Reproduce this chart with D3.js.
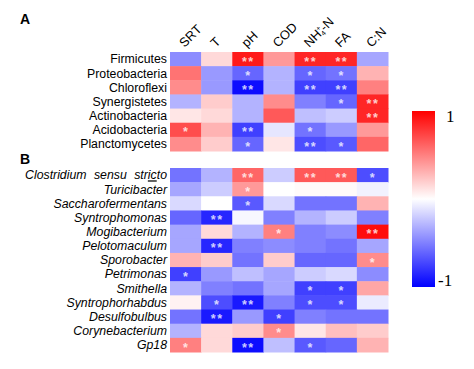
<!DOCTYPE html>
<html><head><meta charset="utf-8">
<script src="https://cdn.jsdelivr.net/npm/d3@7"></script>
<style>body{margin:0;background:#fff}</style>
</head><body><svg id="c" width="474" height="369"></svg>
<script>
const columns = ["SRT","T","pH","COD","NH4+-N","FA","C:N"];
const phyla = ["Firmicutes","Proteobacteria","Chloroflexi","Synergistetes","Actinobacteria","Acidobacteria","Planctomycetes"];
const phylaValues = [
  [-0.45, 0.15, 0.9, 0.4, 0.85, 0.85, -0.35],
  [0.55, -0.4, -0.6, -0.3, -0.6, -0.55, 0.3],
  [0.45, -0.4, -0.95, -0.3, -0.75, -0.75, 0.5],
  [-0.3, 0.2, -0.3, 0.45, -0.5, -0.6, 0.85],
  [0.1, 0.15, -0.3, 0.65, -0.25, -0.2, 0.85],
  [0.7, 0.3, -0.75, -0.1, -0.55, -0.4, 0.4],
  [0.45, 0.2, -0.6, 0.1, -0.7, -0.65, 0.6]
];
const phylaSig = [
  ["","","**","","**","**",""],
  ["","","*","","*","*",""],
  ["","","**","","**","**",""],
  ["","","","","","*","**"],
  ["","","","","","","**"],
  ["*","","**","","*","",""],
  ["","","*","","**","*",""]
];
const genera = ["Clostridium sensu stricto","Turicibacter","Saccharofermentans","Syntrophomonas","Mogibacterium","Pelotomaculum","Sporobacter","Petrimonas","Smithella","Syntrophorhabdus","Desulfobulbus","Corynebacterium","Gp18"];
const generaValues = [
  [-0.55, -0.3, 0.6, -0.2, 0.65, 0.65, -0.7],
  [-0.35, -0.2, 0.4, 0.0, 0.02, 0.02, -0.05],
  [-0.15, 0.0, -0.65, -0.15, -0.55, -0.55, 0.3],
  [-0.6, -0.85, -0.03, -0.5, -0.3, -0.2, -0.5],
  [-0.35, 0.15, -0.3, 0.5, -0.5, -0.45, 0.95],
  [-0.35, -0.85, -0.5, -0.45, -0.5, -0.55, -0.35],
  [0.3, 0.2, -0.55, 0.2, -0.6, -0.6, 0.45],
  [-0.75, -0.4, -0.25, -0.35, -0.2, -0.15, -0.45],
  [-0.3, -0.5, -0.55, -0.35, -0.75, -0.75, 0.35],
  [0.05, -0.7, -0.9, -0.5, -0.7, -0.7, -0.08],
  [-0.55, -0.9, -0.4, -0.75, -0.5, -0.55, -0.55],
  [-0.3, 0.15, 0.2, 0.45, 0.1, 0.25, 0.2],
  [0.5, 0.15, -0.95, -0.25, -0.65, -0.6, 0.3]
];
const generaSig = [
  ["","","**","","**","**","*"],
  ["","","*","","","",""],
  ["","","*","","","",""],
  ["","**","","","","",""],
  ["","","","*","","","**"],
  ["","**","","","","",""],
  ["","","","","","","*"],
  ["*","","","","","",""],
  ["","","","","*","*",""],
  ["","*","**","","*","*",""],
  ["","**","","*","","",""],
  ["","","","*","","",""],
  ["*","","**","","*","",""]
];
const legendTicks = [1, -1];

const svg = d3.select("#c");
const color = d3.scaleLinear().domain([-1,0,1]).range(["#0000ff","#ffffff","#ff0000"]);
const x = d3.scaleBand().domain(columns).range([170, 388]).padding(0);
const FONT = "Arial, Liberation Sans, sans-serif";

function block(rows, vals, sig, y0, y1, italic) {
  const y = d3.scaleBand().domain(rows).range([y0, y1]).padding(0);
  const g = svg.append("g");
  rows.forEach((r, i) => {
    columns.forEach((c, j) => {
      g.append("rect").attr("x", x(c)).attr("y", y(r))
        .attr("width", x.bandwidth()+0.5).attr("height", y.bandwidth()+0.5)
        .attr("fill", color(vals[i][j]));
    });
  });
  rows.forEach((r, i) => {
    columns.forEach((c, j) => {
      if (sig[i][j]) {
        g.append("text").attr("x", x(c)+x.bandwidth()/2+0.5).attr("y", y(r)+y.bandwidth()/2+6.6)
          .attr("text-anchor","middle").attr("font-family", FONT)
          .attr("font-size", 12.5).attr("font-weight","bold").attr("fill","#ffffff").attr("fill-opacity", 0.78)
          .attr("letter-spacing", 1.5)
          .text(sig[i][j]);
      }
    });
    const t = g.append("text").attr("x", 167).attr("y", y(r)+y.bandwidth()/2+4.3)
      .attr("text-anchor","end").attr("font-family", FONT)
      .attr("font-size", 12.3).attr("font-style", italic ? "italic" : "normal")
      .attr("fill","#000");
    if (r === "Clostridium sensu stricto") {
      t.attr("word-spacing", 4);
      t.append("tspan").text("Clostridium sensu str");
      t.append("tspan").attr("text-decoration","underline").text("ic");
      t.append("tspan").text("to");
    } else t.text(r);
  });
}
block(phyla, phylaValues, phylaSig, 52, 151, false);
block(genera, generaValues, generaSig, 168, 352, true);

// column labels
columns.forEach(c => {
  const cx = x(c) + x.bandwidth()/2 - 1;
  const t = svg.append("text").attr("transform", `translate(${cx},48) rotate(-45)`)
    .attr("font-family", FONT).attr("font-size", 12.8).attr("fill","#000");
  if (c === "NH4+-N") {
    t.append("tspan").text("NH");
    t.append("tspan").attr("font-size", 7).attr("dy", 2).text("4");
    t.append("tspan").attr("font-size", 7).attr("dy", -7).attr("dx", -4).text("+");
    t.append("tspan").attr("dy", 5).text("-N");
  } else t.text(c);
});

svg.append("text").attr("x", 20).attr("y", 24).attr("font-family", FONT)
  .attr("font-weight","bold").attr("font-size", 14).text("A");
svg.append("text").attr("x", 20).attr("y", 164).attr("font-family", FONT)
  .attr("font-weight","bold").attr("font-size", 14).text("B");

// legend
const defs = svg.append("defs");
const grad = defs.append("linearGradient").attr("id","lg").attr("x1",0).attr("y1",1).attr("x2",0).attr("y2",0);
[-1,-0.5,0,0.5,1].forEach(v => grad.append("stop").attr("offset", (v+1)/2).attr("stop-color", color(v)));
const ly = d3.scaleLinear().domain([-1,1]).range([287,111]);
svg.append("rect").attr("x", 412).attr("y", ly(1)).attr("width", 23).attr("height", ly(-1)-ly(1)).attr("fill","url(#lg)");
legendTicks.forEach(v => {
  svg.append("text").attr("x", v > 0 ? 446 : 438).attr("y", ly(v) + (v > 0 ? 11 : -1))
    .attr("font-family","Liberation Serif, Times New Roman, serif").attr("font-size", 17).text(v);
});
</script></body></html>
